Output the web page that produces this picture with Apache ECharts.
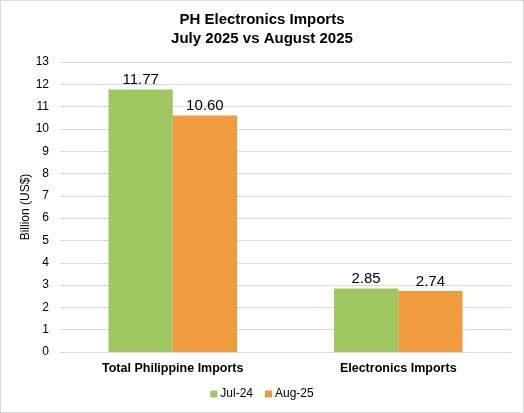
<!DOCTYPE html>
<html>
<head>
<meta charset="utf-8">
<script src="https://cdn.jsdelivr.net/npm/echarts@6/dist/echarts.min.js"></script>
<style>
html, body { margin: 0; padding: 0; background: #fff; }
#chart { width: 522px; height: 411px; border: 1px solid #d9d9d9; }
</style>
</head>
<body>
<div id="chart"></div>
<script>
var categories = ['Total Philippine Imports', 'Electronics Imports'];
var jul24 = [11.77, 2.85];
var aug25 = [10.60, 2.74];
var seriesNames = ['Jul-24', 'Aug-25'];

var chart = echarts.init(document.getElementById('chart'));

var labelStyle = {
    show: true,
    position: 'top',
    distance: 2,
    fontFamily: 'Liberation Sans',
    fontSize: 15,
    color: '#000',
    formatter: function (p) { return p.value.toFixed(2); }
};

chart.setOption({
    animation: false,
    title: {
        text: 'PH Electronics Imports\nJuly 2025 vs August 2025',
        left: 'center',
        top: 4,
        textStyle: {
            fontFamily: 'Liberation Sans',
            fontSize: 15,
            fontWeight: 'bold',
            color: '#000',
            lineHeight: 19
        }
    },
    legend: {
        data: seriesNames,
        bottom: 7,
        left: 'center',
        itemWidth: 7,
        itemHeight: 7,
        itemGap: 12,
        icon: 'rect',
        textStyle: { fontFamily: 'Liberation Sans', fontSize: 12, color: '#000', padding: [0, 0, 0, -2] }
    },
    grid: { left: 59, right: 12, top: 61, bottom: 60 },
    xAxis: {
        type: 'category',
        data: categories,
        axisTick: { show: false },
        axisLine: { lineStyle: { color: '#d9d9d9', width: 1 } },
        axisLabel: {
            fontFamily: 'Liberation Sans',
            fontSize: 12.5,
            fontWeight: 'bold',
            color: '#000',
            margin: 10
        }
    },
    yAxis: {
        type: 'value',
        min: 0,
        max: 13,
        interval: 1,
        name: 'Billion (US$)',
        nameLocation: 'middle',
        nameGap: 28,
        nameMoveOverlap: false,
        nameTextStyle: { fontFamily: 'Liberation Sans', fontSize: 12, color: '#000' },
        axisLine: { show: false },
        axisTick: { show: false },
        axisLabel: { fontFamily: 'Liberation Sans', fontSize: 12, color: '#000', margin: 11 },
        splitLine: { lineStyle: { color: '#d9d9d9', width: 1 } }
    },
    series: [
        {
            name: seriesNames[0],
            type: 'bar',
            data: jul24,
            barGap: '0%',
            barCategoryGap: '43%',
            itemStyle: { color: '#9fc862' },
            label: labelStyle
        },
        {
            name: seriesNames[1],
            type: 'bar',
            data: aug25,
            itemStyle: { color: '#f09b3e' },
            label: labelStyle
        }
    ]
});
</script>
</body>
</html>
